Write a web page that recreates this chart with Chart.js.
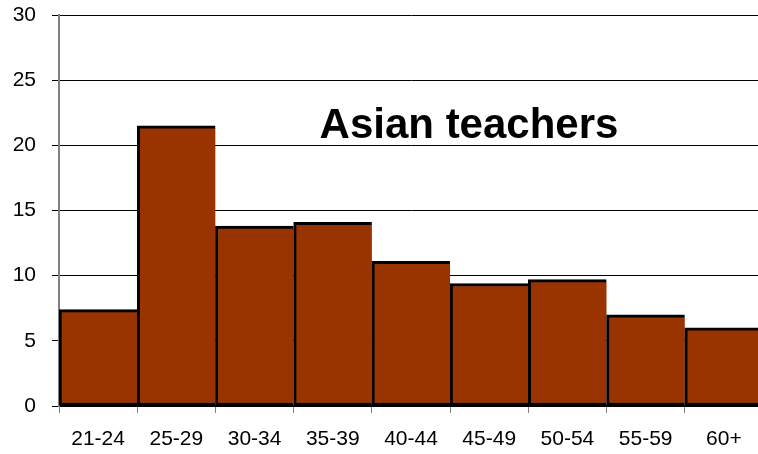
<!DOCTYPE html>
<html>
<head>
<meta charset="utf-8">
<script src="https://cdn.jsdelivr.net/npm/chart.js@4/dist/chart.umd.min.js"></script>
<style>
html,body{margin:0;padding:0;background:#fff;overflow:hidden;}
#wrap{position:relative;width:766px;height:454px;}
</style>
</head>
<body>
<div id="wrap"><canvas id="c" width="766" height="454"></canvas></div>
<script>
const categories = ["21-24","25-29","30-34","35-39","40-44","45-49","50-54","55-59","60+"];
const asianTeachers = [7.4, 21.5, 13.8, 14.1, 11.1, 9.4, 9.7, 7.0, 6.0];
const yTicks = [0, 5, 10, 15, 20, 25, 30];
const chartTitle = "Asian teachers";

const titlePlugin = {
  id: 'inTitle',
  afterDraw(chart) {
    const ctx = chart.ctx;
    ctx.save();
    ctx.font = 'bold 42px "Liberation Sans", Arial, sans-serif';
    ctx.fillStyle = '#000';
    ctx.textAlign = 'center';
    ctx.textBaseline = 'alphabetic';
    ctx.fillText(chartTitle, 469, 138);
    ctx.restore();
  }
};

new Chart(document.getElementById('c'), {
  type: 'bar',
  data: {
    labels: categories,
    datasets: [{
      data: asianTeachers,
      backgroundColor: '#993300',
      borderColor: '#000000',
      borderWidth: { top: 3, left: 3, right: 0, bottom: 3 },
      borderSkipped: false,
      barPercentage: 1,
      categoryPercentage: 1
    }]
  },
  options: {
    responsive: false,
    animation: false,
    layout: { padding: { left: 0, right: 3, top: 15, bottom: 0 } },
    plugins: { legend: { display: false }, tooltip: { enabled: false }, title: { display: false } },
    scales: {
      x: {
        offset: true,
        grid: { offset: true, drawOnChartArea: false, drawTicks: true, tickLength: 7, color: '#808080', lineWidth: 1 },
        border: { display: true, color: '#000000', width: 2 },
        ticks: { color: '#000', font: { family: '"Liberation Sans", Arial, sans-serif', size: 21 }, padding: 14, maxRotation: 0, autoSkip: false },
        afterFit(s) { s.height = 48; s.paddingLeft = 0; s.paddingRight = 0; }
      },
      y: {
        min: 0, max: 30,
        afterBuildTicks(s) { s.ticks = yTicks.map(v => ({ value: v })); },
        grid: { color: '#000000', lineWidth: 1, drawTicks: true, tickLength: 7 },
        border: { display: true, color: '#808080', width: 2 },
        ticks: { color: '#000', font: { family: '"Liberation Sans", Arial, sans-serif', size: 21 }, padding: 16 },
        afterFit(s) { s.width = 59; s.paddingTop = 0; s.paddingBottom = 0; }
      }
    }
  },
  plugins: [titlePlugin]
});
</script>
</body>
</html>
